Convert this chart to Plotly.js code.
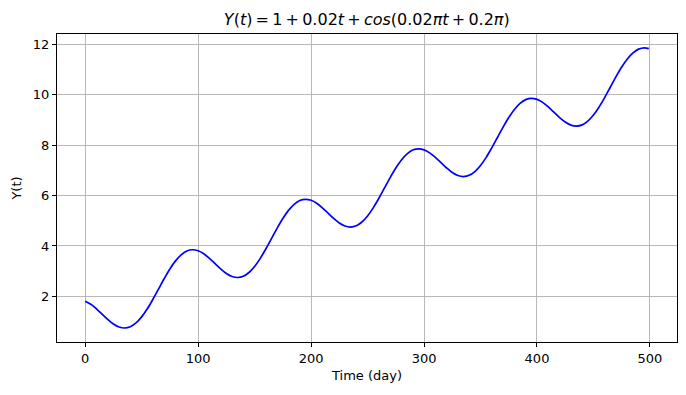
<!DOCTYPE html>
<html>
<head>
<meta charset="utf-8">
<script src="https://cdn.plot.ly/plotly-3.0.1.min.js"></script>
<style>html,body{margin:0;padding:0;background:#fff;}#chart{width:686px;height:395px;}</style>
</head>
<body>
<div id="chart"></div>
<script>
const days = [0,5,10,15,20,25,30,35,40,45,50,55,60,65,70,75,80,85,90,95,
  100,105,110,115,120,125,130,135,140,145,150,155,160,165,170,175,180,185,190,195,
  200,205,210,215,220,225,230,235,240,245,250,255,260,265,270,275,280,285,290,295,
  300,305,310,315,320,325,330,335,340,345,350,355,360,365,370,375,380,385,390,395,
  400,405,410,415,420,425,430,435,440,445,450,455,460,465,470,475,480,485,490,495,499];
const yValues = [1.81,1.69,1.51,1.30,1.09,0.91,0.79,0.75,0.80,0.95,1.19,1.51,1.89,2.30,2.71,3.09,3.41,3.65,3.80,3.85,
  3.81,3.69,3.51,3.30,3.09,2.91,2.79,2.75,2.80,2.95,3.19,3.51,3.89,4.30,4.71,5.09,5.41,5.65,5.80,5.85,
  5.81,5.69,5.51,5.30,5.09,4.91,4.79,4.75,4.80,4.95,5.19,5.51,5.89,6.30,6.71,7.09,7.41,7.65,7.80,7.85,
  7.81,7.69,7.51,7.30,7.09,6.91,6.79,6.75,6.80,6.95,7.19,7.51,7.89,8.30,8.71,9.09,9.41,9.65,9.80,9.85,
  9.81,9.69,9.51,9.30,9.09,8.91,8.79,8.75,8.80,8.95,9.19,9.51,9.89,10.30,10.71,11.09,11.41,11.65,11.80,11.85,11.82];
const xTicks = [0,100,200,300,400,500];
const yTicks = [2,4,6,8,10,12];
const ts = '\u2009';
const titleText = '<i>Y</i>(<i>t</i>)' + ts + '=' + ts + '1' + ts + '+' + ts + '0.02<i>t</i>' + ts + '+' + ts +
  '<i>cos</i>(0.02<i>πt</i>' + ts + '+' + ts + '0.2<i>π</i>)';
const xLabel = 'Time (day)';
const yLabel = 'Y(t)';

const trace = {x: days, y: yValues, type: 'scatter', mode: 'lines',
  line: {color: '#0000ff', width: 1.7, shape: 'spline'}, hoverinfo: 'skip'};

const axisCommon = {showgrid: true, gridcolor: '#b0b0b0', gridwidth: 0.9,
  showline: true, linecolor: '#000', linewidth: 1, mirror: true,
  ticks: 'outside', ticklen: 4, tickwidth: 1, tickcolor: '#000',
  zeroline: false, tickfont: {family: 'DejaVu Sans', size: 13, color: '#000'}};

const layout = {
  width: 686, height: 395,
  margin: {l: 57, r: 9, t: 34, b: 53},
  paper_bgcolor: '#fff', plot_bgcolor: '#fff',
  showlegend: false,
  title: {text: titleText, font: {family: 'DejaVu Sans', size: 16, color: '#000'},
    x: 0.5347, xanchor: 'center', y: 0.95, yanchor: 'middle'},
  xaxis: Object.assign({}, axisCommon, {range: [-24.95, 523.95], tickvals: xTicks,
    title: {text: xLabel, font: {family: 'DejaVu Sans', size: 13, color: '#000'}, standoff: 6}}),
  yaxis: Object.assign({}, axisCommon, {range: [0.195, 12.40], tickvals: yTicks,
    title: {text: yLabel, font: {family: 'DejaVu Sans', size: 13, color: '#000'}, standoff: 8}})
};
Plotly.newPlot('chart', [trace], layout, {displayModeBar: false, staticPlot: true});
</script>
</body>
</html>
